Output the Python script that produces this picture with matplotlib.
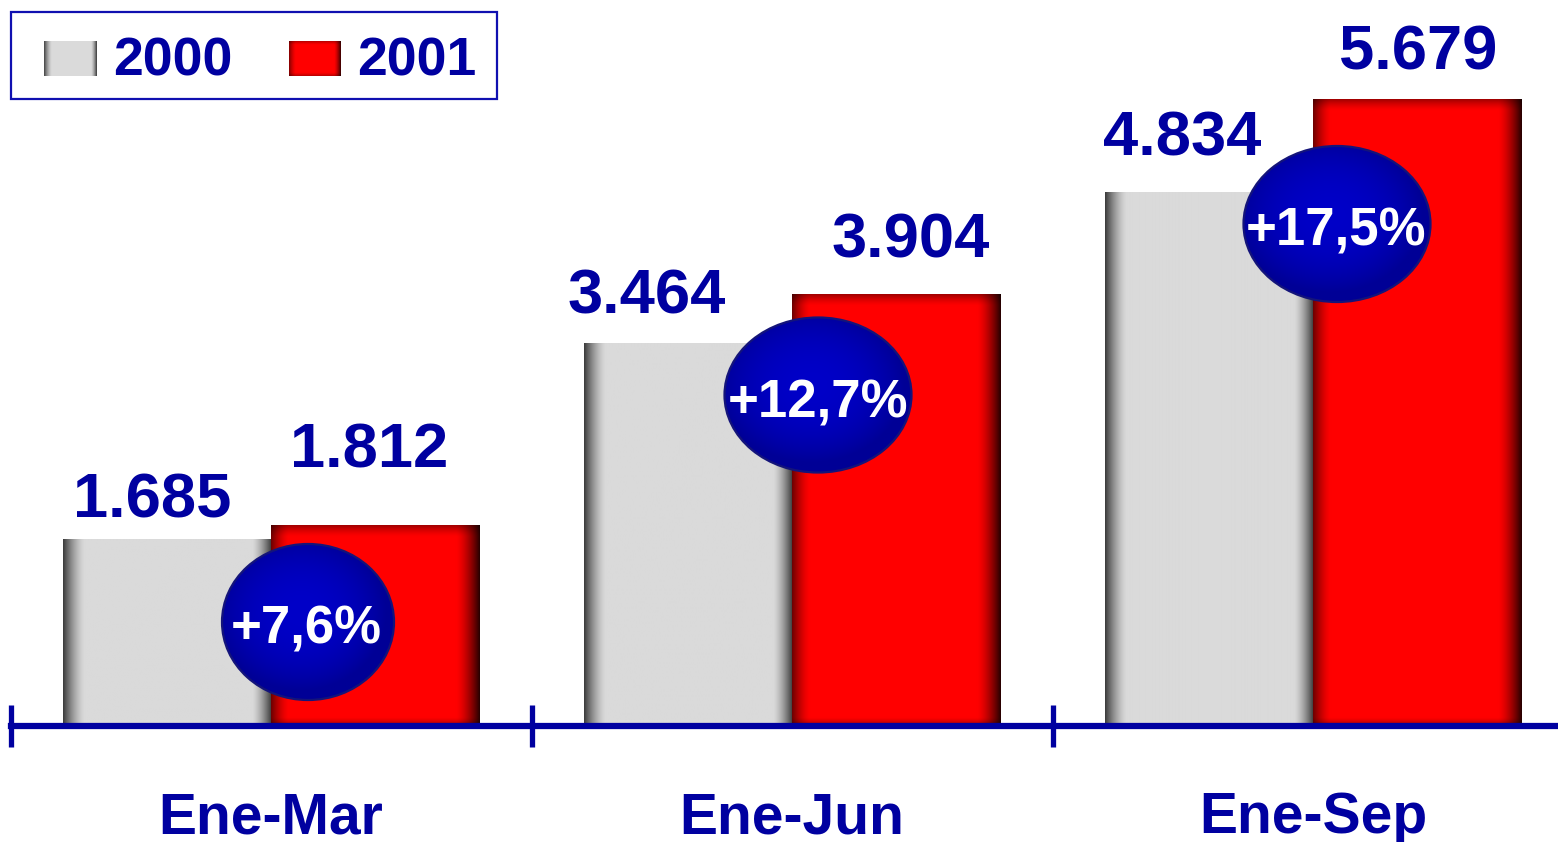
import numpy as np
import matplotlib
matplotlib.use('Agg')
import matplotlib.pyplot as plt
from matplotlib.patches import Ellipse, Rectangle

# ---------------- data ----------------
categories = ['Ene-Mar', 'Ene-Jun', 'Ene-Sep']
series_names = ['2000', '2001']
values_2000 = [1.685, 3.464, 4.834]
values_2001 = [1.812, 3.904, 5.679]
labels_2000 = ['1.685', '3.464', '4.834']
labels_2001 = ['1.812', '3.904', '5.679']
growth_labels = ['+7,6%', '+12,7%', '+17,5%']

# ---------------- layout ----------------
W, H, DPI = 1558, 842, 100
BLUE = '#0000A0'
BAR_W = 0.4
XLIM = (-0.5202, 2.4702)
YLIM = (-1.0507, 6.576)
FONT = 'Liberation Sans'

# label anchor positions in pixels (center x, baseline y)
lab2000_px = [(152, 517), (647, 313), (1182, 156)]
lab2001_px = [(369, 468), (911, 257), (1418, 69)]
# bubbles: center x, center y, width, height (px); text baseline y
bubble_px = [(308, 622, 172, 156), (818, 395, 187, 155), (1337, 224, 187, 156)]
bubble_text_px = [(306, 643), (818, 418), (1336, 245)]

fig = plt.figure(figsize=(W / DPI, H / DPI), dpi=DPI)
fig.patch.set_facecolor('white')
ax = fig.add_axes([0, 0, 1, 1])
ax.set_xlim(*XLIM)
ax.set_ylim(*YLIM)
ax.set_facecolor('none')


def px2data(px, py):
    return ax.transData.inverted().transform((px, H - py))


def prof(d, a, w, p=1.5):
    t = np.clip(1 - d / w, 0, 1)
    return a * t ** p


def shaded_bar(x0, x1, h, base, left, right, top, bottom):
    p0 = ax.transData.transform((x0, 0))
    p1 = ax.transData.transform((x1, h))
    nx = max(int(round(p1[0] - p0[0])), 2)
    ny = max(int(round(p1[1] - p0[1])), 2)
    u = np.arange(nx) + 0.5
    v = np.arange(ny) + 0.5
    mx = 1 - prof(u, *left) - prof(nx - u, *right)
    my = 1 - prof(v, *top) - prof(ny - v, *bottom)
    m = np.clip(mx[None, :] * my[:, None], 0, 1)
    img = np.array(base)[None, None, :] * m[:, :, None]
    ax.imshow(img, extent=(x0, x1, 0, h), origin='upper', aspect='auto',
              interpolation='bilinear', zorder=2)


GREY = (218 / 255, 218 / 255, 218 / 255)
RED = (1.0, 0.0, 0.0)
x = np.arange(len(categories))
for i in x:
    shaded_bar(i - BAR_W, i, values_2000[i], GREY,
               (0.74, 22), (0.76, 20), (0.0, 1), (0.0, 1))
    shaded_bar(i, i + BAR_W, values_2001[i], RED,
               (0.58, 18), (0.86, 24), (0.38, 12), (0.45, 9))


def bubble(cx, cy, w, h, zorder=5):
    (dx, dy) = px2data(cx, cy)
    dw = w / W * (XLIM[1] - XLIM[0])
    dh = h / H * (YLIM[1] - YLIM[0])
    n = 200
    gx = np.linspace(-1, 1, n)
    X, Y = np.meshgrid(gx, gx)
    r = np.clip(np.sqrt((X + 0.08) ** 2 + (Y + 0.12) ** 2), 0, 1)
    c0 = np.array([0, 0, 200]) / 255
    c1 = np.array([0, 0, 150]) / 255
    t = r ** 2.2
    img = c0[None, None, :] * (1 - t[:, :, None]) + c1[None, None, :] * t[:, :, None]
    el = Ellipse((dx, dy), dw, dh, facecolor='none', edgecolor='#14147a',
                 lw=1.6, zorder=zorder + 1)
    ax.add_patch(el)
    im = ax.imshow(img, extent=(dx - dw / 2, dx + dw / 2, dy - dh / 2, dy + dh / 2),
                   origin='upper', aspect='auto', interpolation='bilinear',
                   zorder=zorder)
    im.set_clip_path(el)


for (cx, cy, w, h) in bubble_px:
    bubble(cx, cy, w, h)

ax.set_xlim(*XLIM)
ax.set_ylim(*YLIM)

# value labels
for lab, (px, py) in zip(labels_2000, lab2000_px):
    dx, dy = px2data(px, py)
    ax.text(dx, dy, lab, ha='center', va='baseline', fontsize=45.5,
            fontweight='bold', color=BLUE, family=FONT, zorder=8)
for lab, (px, py) in zip(labels_2001, lab2001_px):
    dx, dy = px2data(px, py)
    ax.text(dx, dy, lab, ha='center', va='baseline', fontsize=45.5,
            fontweight='bold', color=BLUE, family=FONT, zorder=8)
for lab, (px, py) in zip(growth_labels, bubble_text_px):
    dx, dy = px2data(px, py)
    ax.text(dx, dy, lab, ha='center', va='baseline', fontsize=38,
            fontweight='bold', color='white', family=FONT, zorder=9)

# category labels
_, cat_y = px2data(0, 833)
for i, c in enumerate(categories):
    ax.text(i, cat_y, c, ha='center', va='baseline', fontsize=41,
            fontweight='bold', color=BLUE, family=FONT, zorder=8)

# axis
for s in ['top', 'right', 'left']:
    ax.spines[s].set_visible(False)
ax.spines['bottom'].set_position(('data', 0))
ax.spines['bottom'].set_color(BLUE)
ax.spines['bottom'].set_linewidth(4.5)
ax.spines['bottom'].set_bounds(-0.5, XLIM[1])
ax.spines['bottom'].set_zorder(4)
ax.set_xticks([-0.5, 0.5, 1.5])
ax.set_xticklabels([])
ax.tick_params(axis='x', direction='inout', length=30, width=3.8, color=BLUE)
ax.set_yticks([])

# legend in pixel overlay
lg = fig.add_axes([0, 0, 1, 1], zorder=10)
lg.set_xlim(0, W)
lg.set_ylim(H, 0)
lg.axis('off')
lg.patch.set_alpha(0)
lg.add_patch(Rectangle((11, 12), 486, 87, facecolor='white', edgecolor='#1010B0',
                       lw=1.6, zorder=1))


def swatch(x0, x1, y0, y1, base, left, right, top, bottom):
    nx, ny = int(x1 - x0), int(y1 - y0)
    u = np.arange(nx) + 0.5
    v = np.arange(ny) + 0.5
    mx = 1 - prof(u, *left) - prof(nx - u, *right)
    my = 1 - prof(v, *top) - prof(ny - v, *bottom)
    m = np.clip(mx[None, :] * my[:, None], 0, 1)
    img = np.array(base)[None, None, :] * m[:, :, None]
    lg.imshow(img, extent=(x0, x1, y1, y0), origin='upper', aspect='auto',
              interpolation='bilinear', zorder=3)


swatch(44, 97, 41, 76, GREY, (0.7, 8), (0.75, 6), (0, 1), (0, 1))
swatch(289, 341, 41, 76, RED, (0.5, 7), (0.8, 7), (0.3, 4), (0.3, 4))
lg.text(113, 76, series_names[0], ha='left', va='baseline', fontsize=38.5,
        fontweight='bold', color=BLUE, family=FONT, zorder=4)
lg.text(357, 76, series_names[1], ha='left', va='baseline', fontsize=38.5,
        fontweight='bold', color=BLUE, family=FONT, zorder=4)
lg.set_xlim(0, W)
lg.set_ylim(H, 0)

fig.savefig('out.png', dpi=DPI)
